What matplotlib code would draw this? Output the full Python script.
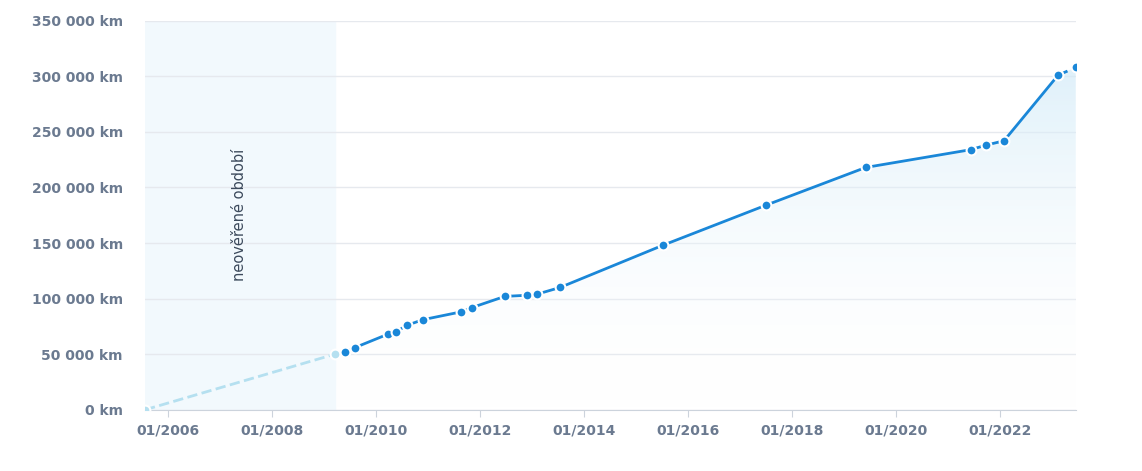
import numpy as np
import matplotlib.pyplot as plt
from matplotlib.patches import Polygon
from matplotlib.ticker import FuncFormatter

# decimal years and odometer readings (km)
years = [2005.56, 2009.21, 2009.40, 2009.60, 2010.23, 2010.38, 2010.60, 2010.90,
         2011.63, 2011.85, 2012.48, 2012.90, 2013.10, 2013.54, 2015.52, 2017.50,
         2019.42, 2021.44, 2021.73, 2022.08, 2023.12, 2023.46]
km = [0, 50000, 52000, 56000, 68000, 70000, 76000, 81000,
      88000, 92000, 102000, 103000, 104000, 110000, 148000, 184000,
      218000, 234000, 238000, 242000, 301000, 308000]
unverified_end = 2009.21
tick_years = [2006, 2008, 2010, 2012, 2014, 2016, 2018, 2020, 2022]

blue = '#1a87d8'
grey = '#6b7a90'

fig = plt.figure(figsize=(11.42, 4.71), dpi=100)
ax = fig.add_axes([0.127, 0.13, 0.815, 0.826])
x0, x1 = 2005.56, 2023.46
ax.set_xlim(x0, x1)
ax.set_ylim(0, 350000)

ax.axvspan(x0, unverified_end, color='#f2f9fd', zorder=0)
ax.text((x0 + unverified_end) / 2, 175000, 'neověřené období', rotation=90,
        ha='center', va='center', color='#3c4a5c', fontsize=10.5)

# gradient fill under line
grad = np.linspace(0, 1, 256).reshape(-1, 1)
img = ax.imshow(grad, extent=[x0, x1, 0, 350000], aspect='auto', origin='lower',
                cmap=plt.matplotlib.colors.LinearSegmentedColormap.from_list(
                    'g', [(1, 1, 1, 0), (0.80, 0.91, 0.97, 0.8)]), zorder=1)
poly = Polygon(list(zip(years, km)) + [(x1, 0), (x0, 0)], closed=True,
               transform=ax.transData, facecolor='none', edgecolor='none')
ax.add_patch(poly)
img.set_clip_path(poly)

ax.plot(years[:2], km[:2], '--', color='#b5e0f0', lw=2, zorder=3)
ax.plot(years[1:-1], km[1:-1], '-', color=blue, lw=2, zorder=3)
ax.plot(years[-2:], km[-2:], '--', color=blue, lw=2, zorder=3)
ax.scatter(years[:2], km[:2], s=50, color='#b5e0f0', edgecolor='white', lw=1.5, zorder=4)
ax.scatter(years[2:], km[2:], s=50, color=blue, edgecolor='white', lw=1.5, zorder=4)

ax.set_yticks(range(0, 350001, 50000))
ax.yaxis.set_major_formatter(FuncFormatter(lambda v, p: f'{int(v):,} km'.replace(',', ' ')))
ax.set_xticks(tick_years)
ax.set_xticklabels([f'01/{y}' for y in tick_years])
ax.grid(axis='y', color='#e6e9ee', lw=1)
ax.set_axisbelow(True)
for s in ['top', 'right', 'left']:
    ax.spines[s].set_visible(False)
ax.spines['bottom'].set_color('#ccd3dc')
ax.tick_params(axis='y', length=0, colors=grey, labelsize=10, pad=16)
ax.tick_params(axis='x', length=5, color='#ccd3dc', colors=grey, labelsize=10, pad=5)
for lbl in ax.get_xticklabels() + ax.get_yticklabels():
    lbl.set_fontweight('bold')

fig.savefig('out.png')
